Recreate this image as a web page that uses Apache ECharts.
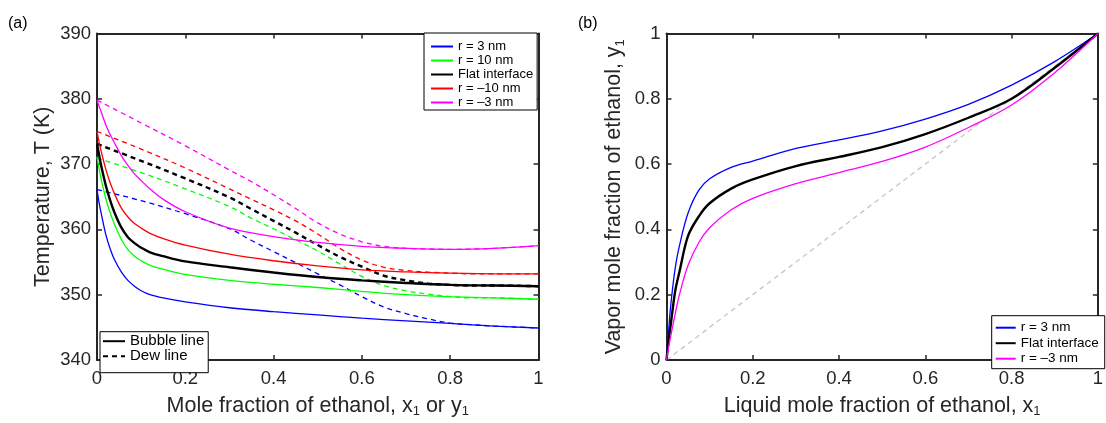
<!DOCTYPE html>
<html>
<head>
<meta charset="utf-8">
<script src="https://cdn.jsdelivr.net/npm/echarts@6/dist/echarts.min.js"></script>
<style>
html,body{margin:0;padding:0;background:#fff;}
#c{width:1106px;height:423px;}
</style>
</head>
<body>
<div id="c"></div>
<script>
// ---------- Data: panel (a) ----------
const bubbleX = [0, 0.005, 0.01, 0.02, 0.03, 0.04, 0.055, 0.07, 0.085, 0.1, 0.12, 0.15, 0.2, 0.3, 0.4, 0.5, 0.6, 0.7, 0.8, 0.9, 1];
const bubbleR3   = [366.1, 364.0, 362.3, 359.2, 357.0, 355.3, 353.5, 352.2, 351.3, 350.6, 350.0, 349.5, 348.9, 348.0, 347.4, 346.9, 346.4, 346.0, 345.6, 345.2, 344.9];
const bubbleR10  = [371.1, 369.2, 367.5, 364.7, 362.5, 360.7, 358.5, 356.9, 355.9, 355.2, 354.5, 353.9, 353.1, 352.2, 351.6, 351.1, 350.5, 350.0, 349.7, 349.5, 349.3];
const bubbleFlat = [373.1, 371.3, 369.6, 366.7, 364.4, 362.5, 360.3, 358.8, 357.9, 357.2, 356.5, 355.9, 355.1, 354.2, 353.4, 352.7, 352.2, 351.8, 351.5, 351.4, 351.3];
const bubbleRm10 = [375.0, 373.3, 371.8, 369.2, 367.1, 365.4, 363.3, 361.9, 360.9, 360.2, 359.4, 358.6, 357.6, 356.2, 355.2, 354.4, 353.8, 353.5, 353.3, 353.2, 353.2];
const bubbleRm3  = [379.8, 378.8, 377.9, 376.0, 374.5, 373.2, 371.3, 369.8, 368.5, 367.5, 366.2, 364.6, 362.7, 360.2, 358.9, 358.0, 357.4, 357.1, 356.95, 357.1, 357.5];

const dewX = [0, 0.1, 0.2, 0.3, 0.35, 0.4, 0.45, 0.5, 0.55, 0.6, 0.65, 0.7, 0.75, 0.8, 0.85, 0.9, 1];
const dewR3   = [366.1, 364.4, 362.4, 360.1, 358.3, 356.6, 354.9, 353.2, 351.5, 349.7, 348.1, 347.1, 346.3, 345.65, 345.4, 345.2, 344.9];
const dewR10  = [370.9, 368.7, 366.2, 363.5, 361.7, 360.1, 358.4, 356.7, 354.7, 352.8, 351.4, 350.6, 350.1, 349.7, 349.5, 349.5, 349.3];
const dewFlat = [373.1, 370.5, 367.8, 364.9, 363.1, 361.3, 359.5, 357.6, 355.8, 354.3, 352.9, 352.2, 351.7, 351.5, 351.4, 351.4, 351.3];
const dewRm10 = [375.0, 372.3, 369.4, 366.2, 364.6, 363.0, 361.3, 359.3, 357.1, 355.3, 354.2, 353.7, 353.45, 353.3, 353.2, 353.2, 353.2];
const dewRm3  = [379.8, 376.3, 372.8, 369.1, 367.3, 365.3, 363.2, 361.0, 359.3, 358.1, 357.4, 357.1, 357.0, 356.95, 357.0, 357.1, 357.5];

// ---------- Data: panel (b) ----------
const liqX = [0, 0.005, 0.01, 0.02, 0.03, 0.05, 0.075, 0.1, 0.15, 0.2, 0.3, 0.4, 0.5, 0.6, 0.7, 0.8, 0.9, 1];
const vapR3   = [0, 0.09, 0.17, 0.28, 0.35, 0.45, 0.52, 0.555, 0.59, 0.609, 0.648, 0.674, 0.702, 0.738, 0.783, 0.842, 0.914, 1];
const vapFlat = [0, 0.06, 0.11, 0.21, 0.27, 0.38, 0.44, 0.48, 0.525, 0.553, 0.594, 0.622, 0.652, 0.692, 0.742, 0.80, 0.895, 1];
const vapRm3  = [0, 0.04, 0.075, 0.14, 0.2, 0.29, 0.36, 0.405, 0.46, 0.495, 0.54, 0.574, 0.608, 0.652, 0.712, 0.781, 0.88, 1];
const diagX = [0, 1];
const diagY = [0, 1];

const namesA = ['r = 3 nm', 'r = 10 nm', 'Flat interface', 'r = \u201310 nm', 'r = \u20133 nm'];
const namesB = ['r = 3 nm', 'Flat interface', 'r = \u20133 nm'];
const styleNames = ['Bubble line', 'Dew line'];
const ticksA_T = [340, 390, 10];

// ---------- Build ----------
const FONT = 'Liberation Sans, Arial, sans-serif';
const AX = '#262626';
const TICKFS = 18.5;
const TITLEFS = 21.5;
const colors = {blue:'#0000ff', green:'#00ff00', black:'#000000', red:'#ff0000', magenta:'#ff00ff'};
const zip = (xs, ys) => xs.map((x, i) => [x, ys[i]]);

function axisCommon(extra) {
  return Object.assign({
    type: 'value',
    axisLine: {show: true, onZero: false, lineStyle: {color: AX, width: 2}},
    axisTick: {show: true, inside: true, length: 5, lineStyle: {color: AX, width: 1.5}},
    splitLine: {show: false},
    axisLabel: {color: AX, fontSize: TICKFS, fontFamily: FONT},
    nameTextStyle: {color: AX, fontSize: TITLEFS, fontFamily: FONT,
      rich: {
        a: {fontSize: TITLEFS, fontFamily: FONT, color: AX},
        s: {fontSize: 13, fontFamily: FONT, color: AX, verticalAlign: 'bottom', padding: [11, 0, 0, 0]}
      }}
  }, extra);
}
function boxAxis(extra) {
  return Object.assign({
    type: 'value',
    axisLine: {show: true, onZero: false, lineStyle: {color: AX, width: 2}},
    axisTick: {show: true, inside: true, length: 5, lineStyle: {color: AX, width: 1.5}},
    axisLabel: {show: false},
    splitLine: {show: false}
  }, extra);
}

function line(name, data, color, width, dashed, xi, yi, z) {
  return {
    name: name, type: 'line', data: data, xAxisIndex: xi, yAxisIndex: yi,
    showSymbol: false, symbol: 'none', smooth: 0.35,
    lineStyle: {color: color, width: width, type: dashed ? [5, 4] : 'solid'},
    itemStyle: {color: color}, z: z || 2, animation: false
  };
}

const colList = [colors.blue, colors.green, colors.black, colors.red, colors.magenta];
const widths = [1.3, 1.3, 2.4, 1.3, 1.3];
const bubbles = [bubbleR3, bubbleR10, bubbleFlat, bubbleRm10, bubbleRm3];
const dews = [dewR3, dewR10, dewFlat, dewRm10, dewRm3];

const series = [];
bubbles.forEach((b, i) => series.push(line(namesA[i], zip(bubbleX, b), colList[i], widths[i], false, 0, 0, 3)));
dews.forEach((d, i) => series.push(line(namesA[i] + ' (dew)', zip(dewX, d), colList[i], widths[i], true, 0, 0, 2)));
series.push(line(styleNames[0], [], '#000', 1.3, false, 0, 0));
series.push(line(styleNames[1], [], '#000', 1.3, true, 0, 0));

series.push({
  name: 'diagonal', type: 'line', data: zip(diagX, diagY), xAxisIndex: 2, yAxisIndex: 2,
  showSymbol: false, symbol: 'none', lineStyle: {color: '#c8c8c8', width: 1.4, type: [5, 4]}, z: 1, animation: false
});
const vapList = [vapR3, vapFlat, vapRm3];
const bCols = [colors.blue, colors.black, colors.magenta];
const bW = [1.3, 2.4, 1.3];
vapList.forEach((v, i) => series.push(line(namesB[i], zip(liqX, v), bCols[i], bW[i], false, 2, 2, 3)));

const legendText = (fs) => ({color: '#000', fontSize: fs, fontFamily: FONT});
const legendCommon = {orient: 'vertical', borderColor: '#000', borderWidth: 1,
  backgroundColor: '#fff', selectedMode: false, itemStyle: {opacity: 0}};

const option = {
  backgroundColor: '#fff',
  animation: false,
  grid: [
    {left: 97, right: 567.5, top: 33.5, bottom: 54.5},
    {left: 666.5, right: 1, top: 33.5, bottom: 52.6}
  ],
  xAxis: [
    axisCommon({gridIndex: 0, min: 0, max: 1, interval: 0.2, position: 'bottom',
      axisLabel: {color: AX, fontSize: TICKFS, fontFamily: FONT, margin: 9},
      name: '{a|Mole fraction of ethanol, x}{s|1}{a| or y}{s|1}', nameLocation: 'middle', nameGap: 34}),
    boxAxis({gridIndex: 0, min: 0, max: 1, interval: 0.2, position: 'top'}),
    axisCommon({gridIndex: 1, min: 0, max: 1, interval: 0.2, position: 'bottom',
      axisLabel: {color: AX, fontSize: TICKFS, fontFamily: FONT, margin: 9},
      name: '{a|Liquid mole fraction of ethanol, x}{s|1}', nameLocation: 'middle', nameGap: 34}),
    boxAxis({gridIndex: 1, min: 0, max: 1, interval: 0.2, position: 'top'})
  ],
  yAxis: [
    axisCommon({gridIndex: 0, min: ticksA_T[0], max: ticksA_T[1], interval: ticksA_T[2], position: 'left',
      axisLabel: {color: AX, fontSize: TICKFS, fontFamily: FONT, margin: 6},
      name: 'Temperature, T (K)', nameLocation: 'middle', nameGap: 43}),
    boxAxis({gridIndex: 0, min: ticksA_T[0], max: ticksA_T[1], interval: ticksA_T[2], position: 'right'}),
    axisCommon({gridIndex: 1, min: 0, max: 1, interval: 0.2, position: 'left',
      axisLabel: {color: AX, fontSize: TICKFS, fontFamily: FONT, margin: 6},
      name: '{a|Vapor mole fraction of ethanol, y}{s|1}', nameLocation: 'middle', nameGap: 40}),
    boxAxis({gridIndex: 1, min: 0, max: 1, interval: 0.2, position: 'right'})
  ],
  legend: [
    Object.assign({data: namesA, left: 424, top: 33, itemWidth: 22, itemHeight: 14, itemGap: 1,
     padding: [7, 4, 1, 6], textStyle: legendText(13)}, legendCommon),
    Object.assign({data: styleNames, left: 100, top: 331.7, itemWidth: 22, itemHeight: 13, itemGap: 0,
     padding: [2, 4, 9, 2], textStyle: legendText(15)}, legendCommon),
    Object.assign({data: namesB, left: 991.7, top: 315.7, itemWidth: 20, itemHeight: 16, itemGap: 1.5,
     padding: [5, 6, 3, 3], textStyle: legendText(13.5)}, legendCommon)
  ],
  graphic: [
    {type: 'text', left: 8, top: 16, style: {text: '(a)', fontSize: 16, fontFamily: FONT, fill: '#000'}},
    {type: 'text', left: 578, top: 16, style: {text: '(b)', fontSize: 16, fontFamily: FONT, fill: '#000'}}
  ],
  series: series
};

const chart = echarts.init(document.getElementById('c'), null, {renderer: 'canvas'});
chart.setOption(option);
</script>
</body>
</html>
